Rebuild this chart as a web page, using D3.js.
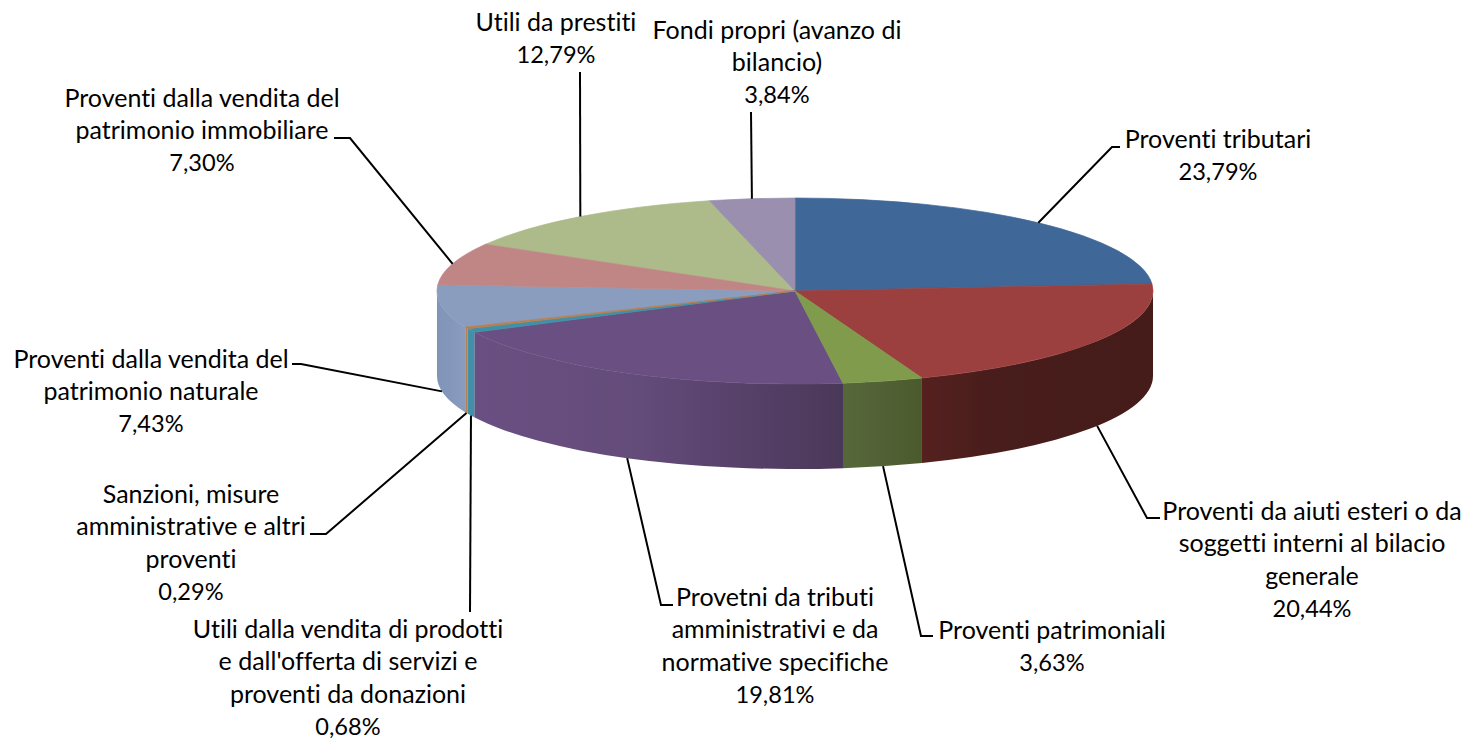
<!DOCTYPE html>
<html><head><meta charset="utf-8">
<style>html,body{margin:0;padding:0;background:#fff}svg{display:block}text{font-family:Lato,"Open Sans",sans-serif;font-size:25px;fill:#000;font-variant-ligatures:none}.p{font-size:23.6px}</style>
<script src="https://cdn.jsdelivr.net/npm/d3@7/dist/d3.min.js"></script>
</head><body><svg id="c" width="1470" height="739"></svg>
<script>
const categories=["Proventi tributari","Proventi da aiuti esteri o da soggetti interni al bilacio generale","Proventi patrimoniali","Provetni da tributi amministrativi e da normative specifiche","Utili dalla vendita di prodotti e dall'offerta di servizi e proventi da donazioni","Sanzioni, misure amministrative e altri proventi","Proventi dalla vendita del patrimonio naturale","Proventi dalla vendita del patrimonio immobiliare","Utili da prestiti","Fondi propri (avanzo di bilancio)"];
const values=[23.79,20.44,3.63,19.81,0.68,0.29,7.43,7.30,12.79,3.84];
const labelLines=[
 ["Proventi tributari"],
 ["Proventi da aiuti esteri o da","soggetti interni al bilacio","generale"],
 ["Proventi patrimoniali"],
 ["Provetni da tributi","amministrativi e da","normative specifiche"],
 ["Utili dalla vendita di prodotti","e dall'offerta di servizi e","proventi da donazioni"],
 ["Sanzioni, misure","amministrative e altri","proventi"],
 ["Proventi dalla vendita del","patrimonio naturale"],
 ["Proventi dalla vendita del","patrimonio immobiliare"],
 ["Utili da prestiti"],
 ["Fondi propri (avanzo di","bilancio)"]];
const topColors=["#3f6797","#9c403f","#7f9b4b","#6a5082","#3f90a8","#b97e4d","#8a9dbf","#c08685","#adbb8b","#9a8fae"];
const sideFrom=["#3f6797","#55211f","#56683a","#6a5082","#3f90a8","#b97e4d","#7f95b7","#c08685","#adbb8b","#9a8fae"];
const sideMid =["#3f6797","#481d1b","#526236","#634b7a","#3f90a8","#b97e4d","#8497ba","#c08685","#adbb8b","#9a8fae"];
const sideTo  =["#3f6797","#451c1a","#4b5a2c","#4a3859","#3f90a8","#b97e4d","#8a9dbf","#c08685","#adbb8b","#9a8fae"];
// label layout: centre x, first-line centre y; leader route after the pie anchor
const labelPos=[[1218,139],[1312,511],[1052,630],[775,597],[348,629],[191,494],[151,359],[202,98],[556,22],[777,30]];
const leaderRoute=[
 [[1112,147],[1120,147]],
 [[1147,518],[1160,518]],
 [[921,636],[933,636]],
 [[661,605],[673,605]],
 [[470,612]],
 [[326,534],[310,534]],
 [[301,364],[292,364]],
 [[350,138],[334,138]],
 [[580,72]],
 [[751,112]]];
const lineH=32.5, cx=795, cy=291, rx=358, ry=93, depth=85;
const svg=d3.select("#c"), defs=svg.append("defs");
const pct=d3.format(".2f");
const fmt=v=>pct(v).replace(".",",")+"%";
const arcs=d3.pie().sort(null).value(d=>d)(values);
const ex=a=>cx+rx*Math.sin(a), ey=a=>cy-ry*Math.cos(a);
const HALF=Math.PI/2, TH=3*Math.PI/2;
// sides
arcs.forEach((d,i)=>{
  const a0=Math.max(d.startAngle,HALF), a1=Math.min(d.endAngle,TH);
  if(a1<=a0) return;
  const id="g"+i, g=defs.append("linearGradient").attr("id",id).attr("gradientUnits","userSpaceOnUse")
    .attr("x1",Math.min(ex(a0),ex(a1))).attr("x2",Math.max(ex(a0),ex(a1))).attr("y1",0).attr("y2",0);
  g.append("stop").attr("offset",0).attr("stop-color",sideFrom[i]);
  g.append("stop").attr("offset",i===1?0.3:0.45).attr("stop-color",sideMid[i]);
  g.append("stop").attr("offset",1).attr("stop-color",sideTo[i]);
  const p=`M${ex(a0)},${ey(a0)}A${rx},${ry} 0 0 1 ${ex(a1)},${ey(a1)}L${ex(a1)},${ey(a1)+depth}A${rx},${ry} 0 0 0 ${ex(a0)},${ey(a0)+depth}Z`;
  svg.append("path").attr("d",p).attr("fill",`url(#${id})`);
});
// top faces: thin slices are painted last so the seam strokes don't cover them
const arcGen=d3.arc().innerRadius(0).outerRadius(rx);
const order=arcs.map((d,i)=>i).sort((a,b)=>values[b]-values[a]);
svg.append("g").attr("transform",`translate(${cx},${cy}) scale(1,${ry/rx})`)
  .selectAll("path").data(order).join("path").attr("d",i=>arcGen(arcs[i])).attr("fill",i=>topColors[i])
  .attr("stroke",i=>topColors[i]).attr("stroke-width",0.7).attr("vector-effect","non-scaling-stroke");
// leaders
const line=d3.line();
arcs.forEach((d,i)=>{
  const m=(d.startAngle+d.endAngle)/2;
  const front=m>HALF&&m<TH;
  const start=[ex(m),ey(m)+(front?depth:0)];
  svg.append("path").attr("d",line([start,...leaderRoute[i]])).attr("fill","none").attr("stroke","#000").attr("stroke-width",2);
});
// labels
arcs.forEach((d,i)=>{
  const t=svg.append("text").attr("text-anchor","middle");
  const lines=[...labelLines[i],fmt(values[i])];
  lines.forEach((s,k)=>t.append("tspan").attr("class",k===lines.length-1?"p":null).attr("x",labelPos[i][0]).attr("y",labelPos[i][1]+k*lineH).attr("dy","0.35em").text(s));
});
</script></body></html>
